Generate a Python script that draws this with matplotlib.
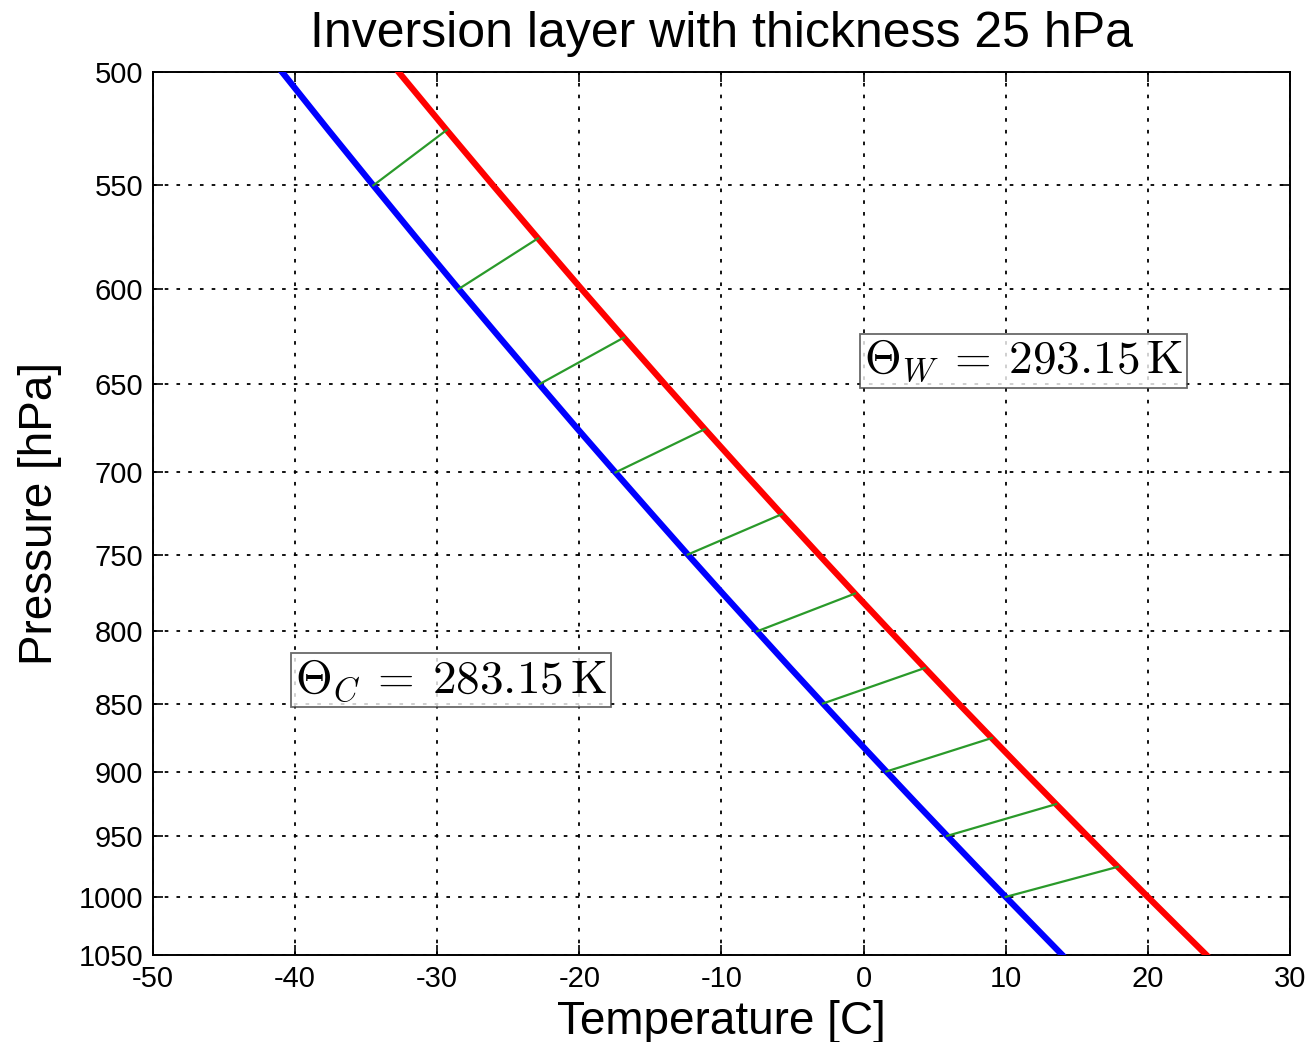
import matplotlib
matplotlib.use("Agg")
import matplotlib.pyplot as plt
from matplotlib.ticker import FixedLocator, FixedFormatter, NullLocator

plt.rcParams['font.family'] = ['Liberation Sans', 'DejaVu Sans']
plt.rcParams['mathtext.fontset'] = 'cm'

# pressure levels [hPa] and the two dry adiabats [C]
pressure = [500, 525, 550, 575, 600, 625, 650, 675, 700, 725, 750, 775,
            800, 825, 850, 875, 900, 925, 950, 975, 1000, 1025, 1050]
t_cold = [-40.92, -37.66, -34.50, -31.45, -28.49, -25.61, -22.82, -20.11,
          -17.46, -14.88, -12.37, -9.91, -7.50, -5.16, -2.86, -0.61, 1.60,
          3.76, 5.88, 7.96, 10.00, 12.01, 13.98]
t_warm = [-32.72, -29.34, -26.07, -22.91, -19.85, -16.87, -13.98, -11.17,
          -8.43, -5.76, -3.15, -0.61, 1.88, 4.31, 6.68, 9.02, 11.30, 13.54,
          15.73, 17.89, 20.00, 22.08, 24.12]

# green connectors: cold line at p -> warm line at p - 25 hPa
link_levels = [550, 600, 650, 700, 750, 800, 850, 900, 950, 1000]

p_ticks = [500, 550, 600, 650, 700, 750, 800, 850, 900, 950, 1000, 1050]
t_ticks = [-50, -40, -30, -20, -10, 0, 10, 20, 30]

fig = plt.figure(figsize=(13.1, 10.42), dpi=100)
ax = fig.add_axes([0.1168, 0.0835, 0.8679, 0.8474])

ax.plot(t_cold, pressure, color='blue', lw=4.5, zorder=3)
ax.plot(t_warm, pressure, color='red', lw=4.5, zorder=3)
for p in link_levels:
    i = pressure.index(p)
    ax.plot([t_cold[i], t_warm[i - 1]], [pressure[i], pressure[i - 1]],
            color='#2a9a2a', lw=1.6, zorder=4)

ax.set_yscale('log')
ax.set_ylim(1050, 500)
ax.set_xlim(-50, 30)
ax.yaxis.set_major_locator(FixedLocator(p_ticks))
ax.yaxis.set_major_formatter(FixedFormatter([str(p) for p in p_ticks]))
ax.yaxis.set_minor_locator(NullLocator())
ax.set_xticks(t_ticks)
ax.set_xticklabels([str(t) for t in t_ticks])

ax.grid(True, color='black', linestyle=(0, (2, 4.5)), lw=1.3)
ax.tick_params(which='both', direction='in', length=7, width=1.2,
               top=True, right=True, labelsize=21, pad=7)
for s in ax.spines.values():
    s.set_linewidth(1.4)

ax.set_xlabel('Temperature [C]', fontsize=33, labelpad=5)
ax.set_ylabel('Pressure [hPa]', fontsize=33, labelpad=12)
ax.set_title('Inversion layer with thickness 25 hPa', fontsize=36, pad=18)

box = dict(boxstyle='square,pad=0.08', facecolor='white', alpha=0.8,
           edgecolor='#444444', lw=1.3)
ax.text(0, 650, r'$\Theta_W\:=\:293.15\,\mathrm{K}$', fontsize=34,
        ha='left', va='bottom', bbox=box, zorder=5)
ax.text(-40, 850, r'$\Theta_C\:=\:283.15\,\mathrm{K}$', fontsize=34,
        ha='left', va='bottom', bbox=box, zorder=5)

fig.savefig('out.png', dpi=100)
